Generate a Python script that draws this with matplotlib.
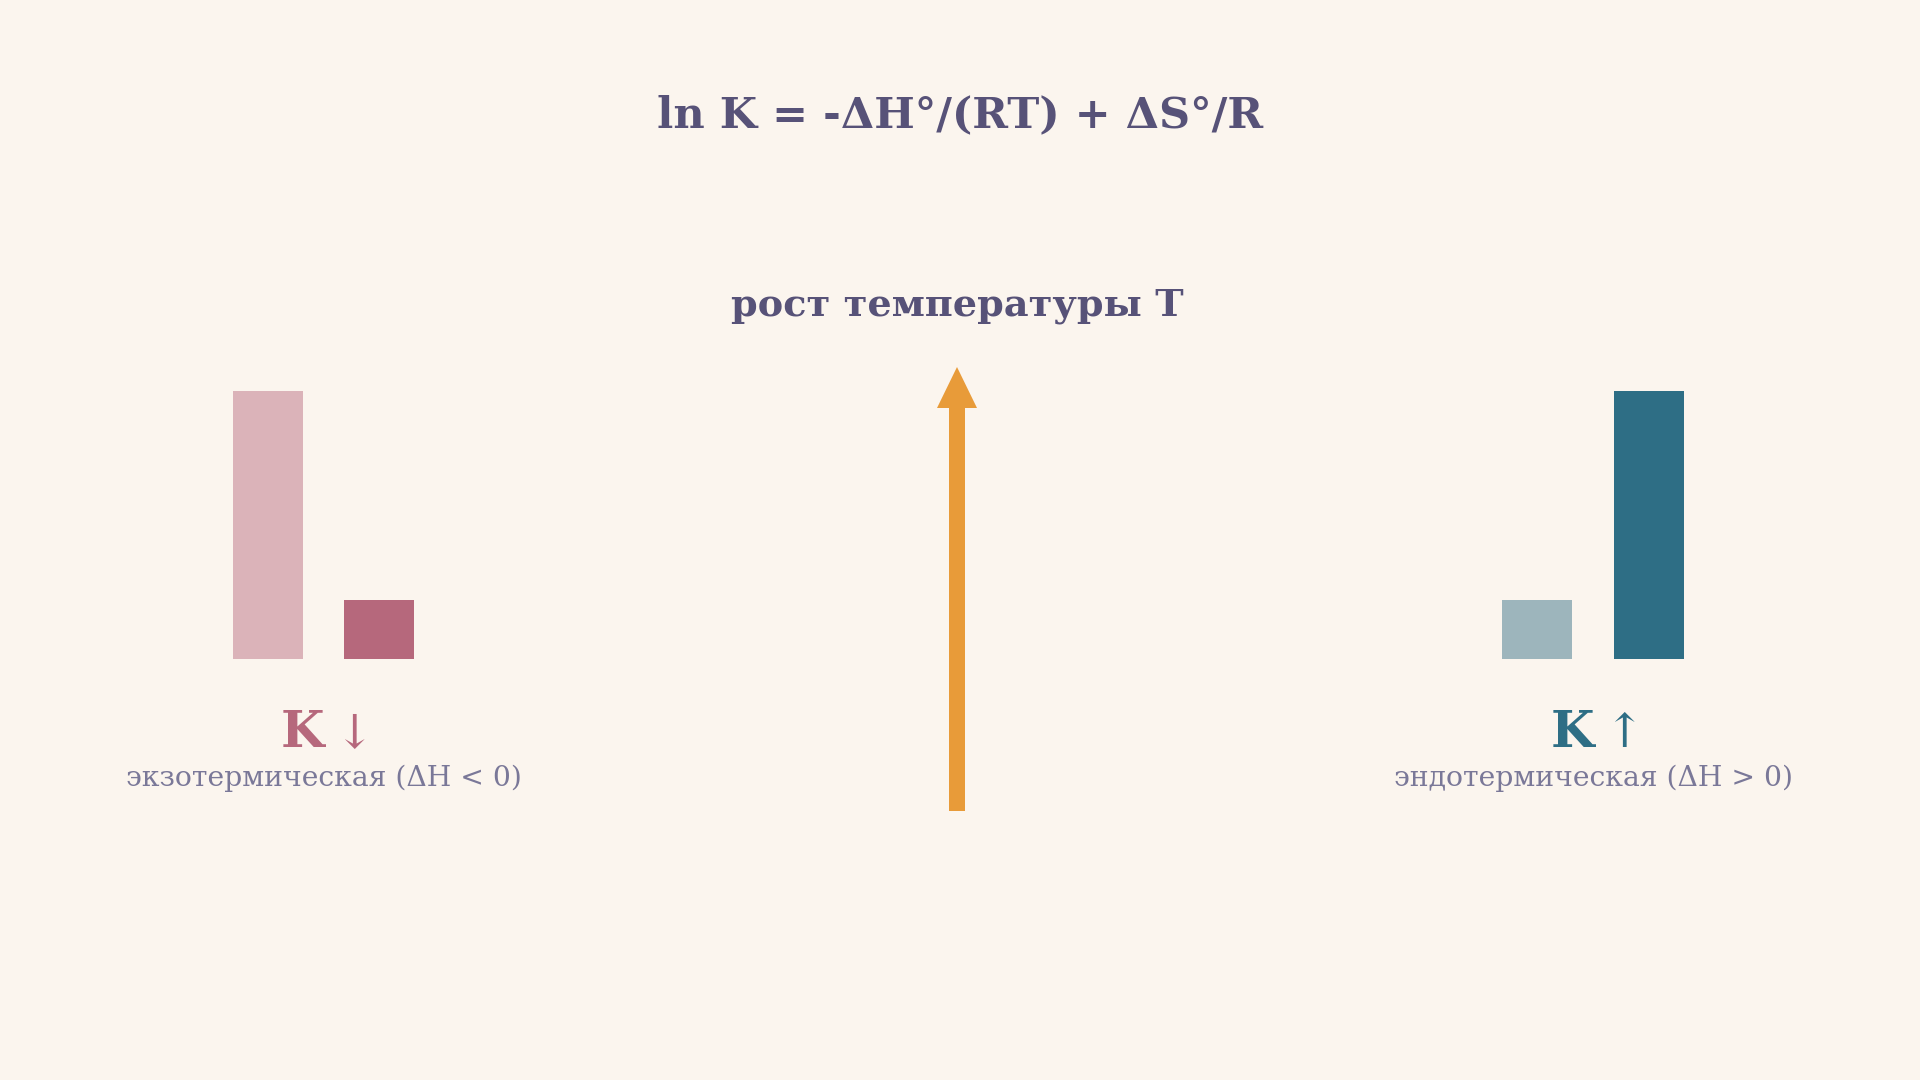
import matplotlib
matplotlib.use("Agg")
import matplotlib.pyplot as plt
from matplotlib.patches import FancyArrow

# ---- data ----
formula = "ln K = -ΔH°/(RT) + ΔS°/R"
subtitle = "рост температуры T"
exo_values = [1.0, 0.22]
endo_values = [0.22, 1.0]
exo_label = "экзотермическая (ΔH < 0)"
endo_label = "эндотермическая (ΔH > 0)"
exo_arrow = "↓"
endo_arrow = "↑"

BG = "#fbf5ee"
TITLE_C = "#575278"
DESC_C = "#7a7898"
EXO_C = ["#dbb3b9", "#b6687c"]
ENDO_C = ["#9db5bc", "#2e6e85"]
ORANGE = "#e89b39"
SERIF = ["DejaVu Serif", "DejaVu Sans"]

W, H = 1920, 1080
fig = plt.figure(figsize=(19.2, 10.8), dpi=100, facecolor=BG)

# overlay axes in pixel units (y downward)
ov = fig.add_axes([0, 0, 1, 1])
ov.set_xlim(0, W)
ov.set_ylim(H, 0)
ov.axis("off")
ov.set_facecolor(BG)

def bar_axes(x0, x1, ybase, ytop):
    ax = fig.add_axes([x0 / W, (H - ybase) / H, (x1 - x0) / W, (ybase - ytop) / H])
    ax.set_xlim(-0.315, 1.315)
    ax.set_ylim(0, 1.0)
    ax.axis("off")
    ax.patch.set_alpha(0)
    return ax

axL = bar_axes(233, 414, 659, 391)
axL.bar([0, 1], exo_values, width=0.63, color=EXO_C)
axR = bar_axes(1502, 1684, 659, 391)
axR.bar([0, 1], endo_values, width=0.63, color=ENDO_C)

# title and subtitle
ov.text(960, 127, formula, ha="center", va="baseline", fontsize=31,
        fontweight="bold", color=TITLE_C, family=SERIF)
ov.text(957, 316, subtitle, ha="center", va="baseline", fontsize=27.5,
        fontweight="bold", color=TITLE_C, family=SERIF)

# central arrow
ov.add_patch(FancyArrow(957, 811, 0, -444, width=16, head_width=40, head_length=41,
                        length_includes_head=True, color=ORANGE, lw=0))

# K labels
for kx, ax_, arr, col, desc, dx in [
    (302.5, 355, exo_arrow, EXO_C[1], exo_label, 324),
    (1572.5, 1624.5, endo_arrow, ENDO_C[1], endo_label, 1593),
]:
    ov.text(kx, 747, "K", ha="center", va="baseline", fontsize=36,
            fontweight="bold", color=col, family=SERIF)
    ov.text(ax_, 747, arr, ha="center", va="baseline", fontsize=34,
            color=col, family=SERIF)
    ov.text(dx, 786, desc, ha="center", va="baseline", fontsize=20.3,
            color=DESC_C, family=SERIF)

fig.savefig("out.png", dpi=100, facecolor=BG)
